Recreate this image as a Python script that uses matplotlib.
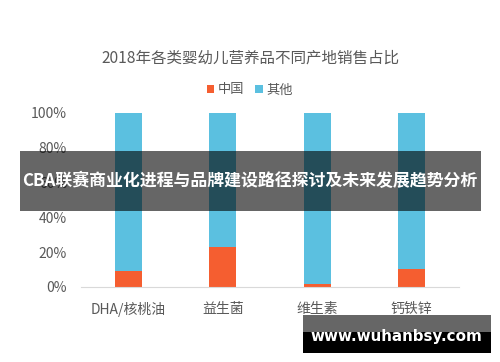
import matplotlib
matplotlib.use("Agg")
import matplotlib.pyplot as plt
from matplotlib.patches import Rectangle

plt.rcParams['font.family'] = ['Noto Sans CJK SC', 'DejaVu Sans']

title = "2018年各类婴幼儿营养品不同产地销售占比"
categories = ["DHA/核桃油", "益生菌", "维生素", "钙铁锌"]
china = [9, 23, 2, 10.5]
other = [100 - v for v in china]
series_names = ["中国", "其他"]
yticks = [0, 20, 40, 60, 80, 100]
ytick_labels = ["0%", "20%", "40%", "60%", "80%", "100%"]
banner_text = "CBA联赛商业化进程与品牌建设路径探讨及未来发展趋势分析"
watermark = "www.wuhanbsy.com"

c_china = "#F55E30"
c_other = "#5BC0E0"
txt = "#595959"

fig = plt.figure(figsize=(5, 3.62), dpi=100)
ax = fig.add_axes([81/500, 75/362, 378/500, 174/362])
x = list(range(len(categories)))
w = 0.286
ax.bar(x, china, width=w, color=c_china, label=series_names[0])
ax.bar(x, other, width=w, bottom=china, color=c_other, label=series_names[1])
ax.set_xlim(-0.5, len(categories) - 0.5)
ax.set_ylim(0, 100)
ax.set_yticks(yticks)
ax.set_yticklabels(ytick_labels)
ax.set_xticks(x)
ax.set_xticklabels(categories)
for s in ['top', 'right', 'left']:
    ax.spines[s].set_visible(False)
ax.spines['bottom'].set_color('#D9D9D9')
ax.tick_params(axis='both', length=0, colors=txt, labelsize=10)
ax.tick_params(axis='y', pad=10)
ax.tick_params(axis='x', pad=11)

fig.text(0.5, 1 - 58/362, title, ha='center', va='center', fontsize=11.2, color=txt)
leg = fig.legend(loc='center', bbox_to_anchor=(0.5, 1 - 90/362), ncol=2, frameon=False,
                 fontsize=9.5, handlelength=0.55, handleheight=0.55, handletextpad=0.3,
                 columnspacing=0.8)
for t in leg.get_texts():
    t.set_color(txt)

# banner overlay
fig.patches.append(Rectangle((20/500, 1 - 211/362), 461/500, 60/362, transform=fig.transFigure,
                             facecolor='black', alpha=0.6, edgecolor='none', zorder=5))
fig.text(250/500, 1 - 181/362, banner_text, ha='center', va='center', fontsize=12.2,
         color='white', fontweight='bold', zorder=6)

# watermark
fig.patches.append(Rectangle((303/500, 1 - 332/362), 188/500, 17/362, transform=fig.transFigure,
                             facecolor='#666666', edgecolor='none', zorder=5))
fig.patches.append(Rectangle((303/500, 1 - 353/362), 188/500, 21/362, transform=fig.transFigure,
                             facecolor='black', edgecolor='none', zorder=5))
fig.text(396/500, 1 - 337/362, watermark, ha='center', va='center', fontsize=10.9,
         color='white', fontweight='bold', family='DejaVu Sans', zorder=6)

fig.savefig("out.png", dpi=100, facecolor='white')
